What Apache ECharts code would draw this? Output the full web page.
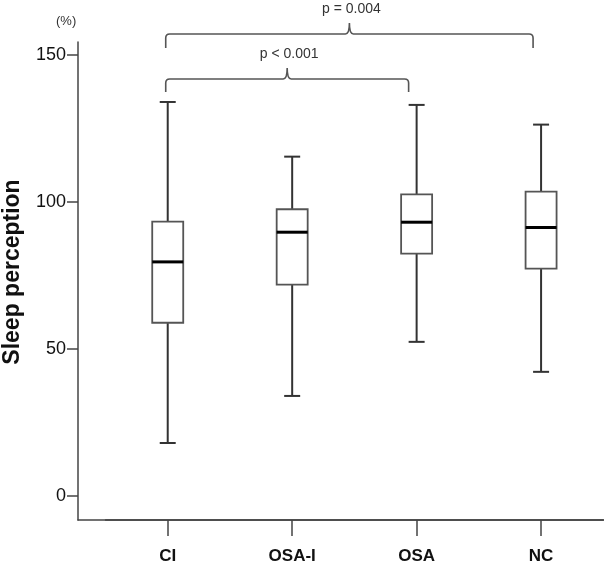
<!DOCTYPE html>
<html>
<head>
<meta charset="utf-8">
<script src="https://cdn.jsdelivr.net/npm/echarts@6/dist/echarts.min.js"></script>
<style>
  html, body { margin: 0; padding: 0; background: #fff; }
  #chart { width: 604px; height: 565px; }
</style>
</head>
<body>
<div id="chart"></div>
<script>
// groups on the x axis
const groups = ["CI", "OSA-I", "OSA", "NC"];
// box values per group: min, Q1, median, Q3, max (%)
const minVals = [18.0, 34.0, 52.4, 42.2];
const q1Vals = [58.9, 71.9, 82.4, 77.3];
const medianVals = [79.6, 89.7, 93.1, 91.3];
const q3Vals = [93.3, 97.5, 102.6, 103.5];
const maxVals = [134.0, 115.4, 133.0, 126.3];
// y ticks
const yTicks = [0, 50, 100, 150];
// significance brackets: from group, to group, bar level, end level, label
const bracketFrom = [0, 0];
const bracketTo = [2, 3];
const bracketTop = [141.8, 157.1];
const bracketEnd = [137.4, 152.4];
const bracketText = ["p < 0.001", "p = 0.004"];

const boxData = groups.map((g, i) => [i, minVals[i], q1Vals[i], medianVals[i], q3Vals[i], maxVals[i]]);
const bracketData = bracketFrom.map((f, i) => [f, bracketTo[i], bracketTop[i], bracketEnd[i], bracketText[i]]);

const Y_MIN = -8.2, Y_MAX = 154.4;
const lineColor = "#444";
const font = "'Liberation Sans', Arial, sans-serif";

function renderBox(params, api) {
  const i = api.value(0);
  const pMin = api.coord([i, api.value(1)]);
  const pQ1 = api.coord([i, api.value(2)]);
  const pMed = api.coord([i, api.value(3)]);
  const pQ3 = api.coord([i, api.value(4)]);
  const pMax = api.coord([i, api.value(5)]);
  const x = pMin[0];
  const bw = 31, cw = 16;
  const whisker = { stroke: "#333", lineWidth: 2 };
  return {
    type: "group",
    children: [
      { type: "line", shape: { x1: x, y1: pMax[1], x2: x, y2: pMin[1] }, style: whisker },
      { type: "line", shape: { x1: x - cw / 2, y1: pMax[1], x2: x + cw / 2, y2: pMax[1] }, style: whisker },
      { type: "line", shape: { x1: x - cw / 2, y1: pMin[1], x2: x + cw / 2, y2: pMin[1] }, style: whisker },
      { type: "rect", shape: { x: x - bw / 2, y: pQ3[1], width: bw, height: pQ1[1] - pQ3[1] },
        style: { fill: "#fff", stroke: "#555", lineWidth: 1.8 } },
      { type: "line", shape: { x1: x - bw / 2, y1: pMed[1], x2: x + bw / 2, y2: pMed[1] },
        style: { stroke: "#000", lineWidth: 3 } }
    ]
  };
}

function renderBracket(params, api) {
  const a = api.coord([api.value(0), api.value(2)]);
  const b = api.coord([api.value(1), api.value(2)]);
  const e = api.coord([api.value(0), api.value(3)]);
  const x1 = a[0] - 2, x2 = b[0] - 8, y = a[1], ye = e[1];
  const xm = (x1 + x2) / 2, r = 4, peak = y - 11;
  const path =
    "M" + x1 + " " + ye + " L" + x1 + " " + (y + r) +
    " Q" + x1 + " " + y + " " + (x1 + r) + " " + y +
    " L" + (xm - r) + " " + y +
    " Q" + xm + " " + y + " " + xm + " " + peak +
    " Q" + xm + " " + y + " " + (xm + r) + " " + y +
    " L" + (x2 - r) + " " + y +
    " Q" + x2 + " " + y + " " + x2 + " " + (y + r) +
    " L" + x2 + " " + ye;
  return {
    type: "group",
    children: [
      { type: "path", shape: { pathData: path },
        style: { fill: null, stroke: "#555", lineWidth: 1.6 } },
      { type: "text", x: xm + 2, y: peak - 14,
        style: { text: api.value(4), fill: "#333", font: "14px " + font,
          align: "center", verticalAlign: "middle" } }
    ]
  };
}

let myChart = echarts.init(document.getElementById("chart"));
let option = {
  animation: false,
  title: {
    text: "(%)",
    left: 51,
    top: 10,
    textStyle: { fontSize: 13, fontWeight: "normal", color: "#333", fontFamily: font }
  },
  grid: [
    { left: 105.5, right: 0.7, top: 42, bottom: 45, outerBoundsMode: "none", containLabel: false },
    { left: 78, right: 0, top: 42, bottom: 45, outerBoundsMode: "none", containLabel: false }
  ],
  xAxis: [
    {
      type: "category",
      gridIndex: 0,
      data: groups,
      boundaryGap: true,
      axisLine: { show: true, onZero: false, lineStyle: { color: lineColor, width: 1.5 } },
      axisTick: { show: true, alignWithLabel: true, length: 16, lineStyle: { color: lineColor, width: 1.5 } },
      axisLabel: {
        margin: 28,
        color: "#111",
        fontSize: 17,
        fontWeight: "bold",
        fontFamily: font
      },
      splitLine: { show: false }
    },
    {
      type: "value",
      gridIndex: 1,
      min: 0,
      max: 1,
      axisLine: { show: true, onZero: false, lineStyle: { color: lineColor, width: 1.5 } },
      axisTick: { show: false },
      axisLabel: { show: false },
      splitLine: { show: false }
    }
  ],
  yAxis: [
    {
      type: "value",
      gridIndex: 0,
      min: Y_MIN,
      max: Y_MAX,
      show: false
    },
    {
      type: "value",
      gridIndex: 1,
      min: Y_MIN,
      max: Y_MAX,
      name: "Sleep perception",
      nameLocation: "middle",
      nameGap: 54,
      nameRotate: 90,
      nameTextStyle: { fontSize: 23, fontWeight: "bold", color: "#111", fontFamily: font, padding: [0, 0, 0, 18] },
      axisLine: { show: true, onZero: false, lineStyle: { color: lineColor, width: 1.5 } },
      axisTick: { show: true, length: 11, customValues: yTicks, lineStyle: { color: lineColor, width: 1.5 } },
      axisLabel: {
        customValues: yTicks,
        margin: 12,
        color: "#111",
        fontSize: 18,
        fontFamily: font
      },
      splitLine: { show: false }
    }
  ],
  series: [
    {
      type: "custom",
      name: "box",
      xAxisIndex: 0,
      yAxisIndex: 0,
      clip: false,
      renderItem: renderBox,
      encode: { x: 0, y: [1, 2, 3, 4, 5] },
      data: boxData
    },
    {
      type: "custom",
      name: "brackets",
      xAxisIndex: 0,
      yAxisIndex: 0,
      clip: false,
      renderItem: renderBracket,
      encode: { x: [0, 1], y: [2, 3] },
      data: bracketData
    }
  ]
};
myChart.setOption(option);
</script>
</body>
</html>
